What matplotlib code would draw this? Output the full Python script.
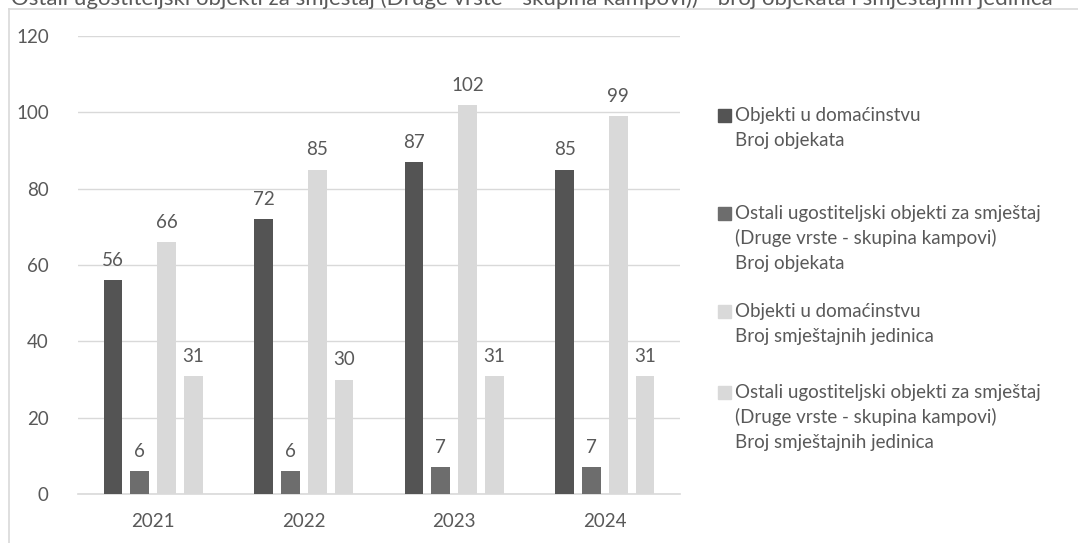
import matplotlib
matplotlib.use("Agg")
import matplotlib.pyplot as plt
from matplotlib.lines import Line2D
from matplotlib.patches import Rectangle
import numpy as np

plt.rcParams['font.family'] = ['Lato', 'DejaVu Sans']

years = ["2021", "2022", "2023", "2024"]
series_names = [
    "Objekti u domaćinstvu\nBroj objekata",
    "Ostali ugostiteljski objekti za smještaj\n(Druge vrste - skupina kampovi)\nBroj objekata",
    "Objekti u domaćinstvu\nBroj smještajnih jedinica",
    "Ostali ugostiteljski objekti za smještaj\n(Druge vrste - skupina kampovi)\nBroj smještajnih jedinica",
]
dom_objekti = [56, 72, 87, 85]
kamp_objekti = [6, 6, 7, 7]
dom_jedinice = [66, 85, 102, 99]
kamp_jedinice = [31, 30, 31, 31]
y_ticks = [0, 20, 40, 60, 80, 100, 120]
title = ("Ostali ugostiteljski objekti za smještaj (Druge vrste - skupina kampovi)) "
         "- broj objekata i smještajnih jedinica")

series = [dom_objekti, kamp_objekti, dom_jedinice, kamp_jedinice]
colors = ["#545454", "#6d6d6d", "#d9d9d9", "#d9d9d9"]
text_color = "#595959"
grid_color = "#d9d9d9"

W, H = 1078, 543
fig = plt.figure(figsize=(W / 100, H / 100), dpi=100)
ax = fig.add_axes([78 / W, 1 - 494 / H, (680 - 78) / W, (494 - 36) / H])

x = np.arange(len(years))
bar_w = 0.125
pitch = 0.178
offsets = (np.arange(4) - 1.5) * pitch
FS = 13.5
for i, (vals, c) in enumerate(zip(series, colors)):
    bars = ax.bar(x + offsets[i], vals, width=bar_w, color=c, zorder=3)
    ax.bar_label(bars, labels=[str(v) for v in vals], padding=8,
                 color=text_color, fontsize=FS)

ax.set_xlim(-0.5, len(years) - 0.5)
ax.set_ylim(0, 120)
ax.set_yticks(y_ticks)
ax.set_yticklabels([str(t) for t in y_ticks])
ax.set_xticks(x)
ax.set_xticklabels(years)
ax.tick_params(axis='both', length=0, colors=text_color, labelsize=FS)
ax.tick_params(axis='y', pad=21)
ax.tick_params(axis='x', pad=14)
ax.grid(axis='y', color=grid_color, linewidth=1, zorder=0)
for s in ['top', 'right', 'left']:
    ax.spines[s].set_visible(False)
ax.spines['bottom'].set_color(grid_color)
ax.spines['bottom'].set_linewidth(1.2)
ax.set_axisbelow(True)

# chart border (partially visible)
fig.add_artist(Line2D([9 / W, 1.01], [1 - 9 / H, 1 - 9 / H], color="#d9d9d9",
                      linewidth=1.2, transform=fig.transFigure))
fig.add_artist(Line2D([9 / W, 9 / W], [1 - 9 / H, -0.01], color="#d9d9d9",
                      linewidth=1.2, transform=fig.transFigure))

# title (cut off at the top edge, as in the reference)
fig.text(532 / W, 1 - 5 / H, title, ha='center', va='baseline',
         fontsize=16, color=text_color)

# legend (one text per line, 25 px line step)
entry_centers = [115, 213, 311, 392]
line_px = 25
for name, c, yc in zip(series_names, colors, entry_centers):
    fig.add_artist(Rectangle((718 / W, 1 - (yc + 7) / H), 13 / W, 13 / H,
                             color=c, transform=fig.transFigure))
    for j, line in enumerate(name.split("\n")):
        fig.text(735 / W, 1 - (yc + 6 + j * line_px) / H, line,
                 ha='left', va='baseline', fontsize=FS, color=text_color)

fig.savefig("out.png", dpi=100)
